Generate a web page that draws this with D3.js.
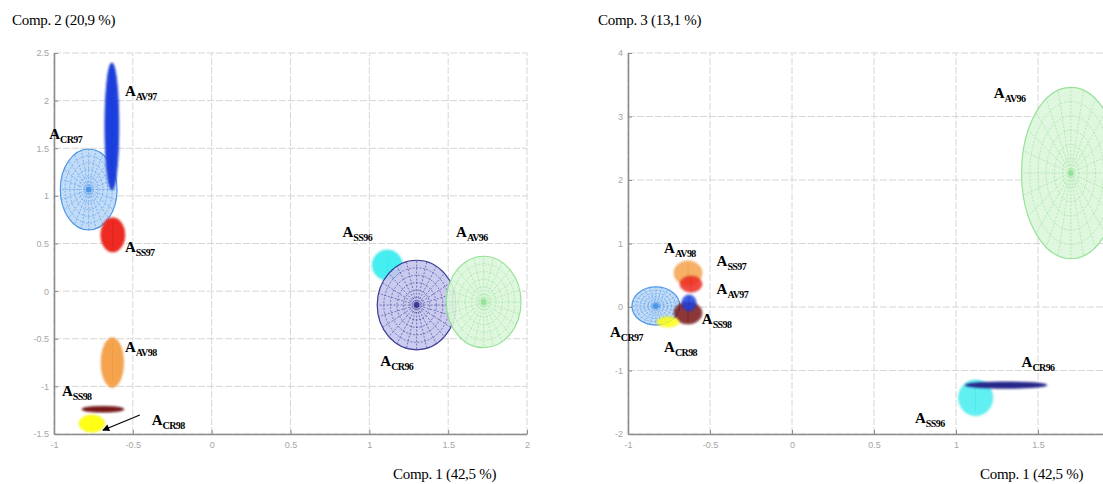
<!DOCTYPE html>
<html>
<head>
<meta charset="utf-8">
<script src="https://cdn.jsdelivr.net/npm/d3@7"></script>
<style>
  body { margin: 0; background: #fff; }
  text { font-family: "Liberation Serif", "Times New Roman", serif; }
  .tick text { font-family: "Liberation Sans", Arial, sans-serif; font-size: 9px; fill: #a5a5a5; }
</style>
</head>
<body>
<svg id="chart" width="1103" height="484"></svg>
<script>
// Left panel: Comp. 1 (x) vs Comp. 2 (y)
const leftNames = ["CR97", "AV97", "SS97", "AV98", "SS98", "CR98", "SS96", "CR96", "AV96"];
const leftCx = [-0.78, -0.633, -0.627, -0.63, -0.69, -0.76, 1.114, 1.30, 1.725];
const leftCy = [1.067, 1.73, 0.59, -0.75, -1.24, -1.39, 0.274, -0.146, -0.114];
const leftRx = [0.18, 0.044, 0.076, 0.07, 0.133, 0.08, 0.095, 0.25, 0.237];
const leftRy = [0.425, 0.667, 0.18, 0.26, 0.03, 0.09, 0.157, 0.47, 0.48];
// where each label sits, in data units
const leftLabelX = [-1.03, -0.55, -0.55, -0.55, -0.95, -0.38, 0.83, 1.07, 1.55];
const leftLabelY = [1.60, 2.05, 0.41, -0.64, -1.10, -1.41, 0.57, -0.79, 0.57];
const leftXTicks = [-1, -0.5, 0, 0.5, 1, 1.5, 2];
const leftYTicks = [-1.5, -1, -0.5, 0, 0.5, 1, 1.5, 2, 2.5];
// arrow pointing at A_CR98: [from, to]
const leftArrow = [[-0.456, -1.30], [-0.69, -1.46]];

// Right panel: Comp. 1 (x) vs Comp. 3 (y)
const rightNames = ["AV96", "SS96", "CR96", "CR97", "AV98", "SS97", "SS98", "AV97", "CR98"];
const rightCx = [1.70, 1.12, 1.305, -0.83, -0.634, -0.616, -0.634, -0.628, -0.756];
const rightCy = [2.11, -1.43, -1.23, 0.016, 0.535, 0.36, -0.094, 0.063, -0.236];
const rightRx = [0.30, 0.104, 0.25, 0.146, 0.085, 0.067, 0.085, 0.043, 0.067];
const rightRy = [1.35, 0.28, 0.05, 0.30, 0.19, 0.126, 0.173, 0.126, 0.08];
const rightLabelX = [1.23, 0.75, 1.40, -1.11, -0.78, -0.46, -0.55, -0.46, -0.78];
const rightLabelY = [3.29, -1.83, -0.94, -0.47, 0.85, 0.65, -0.27, 0.20, -0.71];
const rightXTicks = [-1, -0.5, 0, 0.5, 1, 1.5];
const rightYTicks = [-2, -1, 0, 1, 2, 3, 4];

// look of each group
const styles = {
  CR97: { fill: "#bcd8f6", stroke: "#3a8ce6", mesh: true },
  AV97: { fill: "#1f3fe0", stroke: "#1530b8" },
  SS97: { fill: "#ee2a22", stroke: "#d01c14" },
  AV98: { fill: "#f5a44e", stroke: "#e88a30" },
  SS98: { fill: "#7a1418", stroke: "#5a0a0e" },
  CR98: { fill: "#ffff14", stroke: "#f0f000" },
  SS96: { fill: "#44eef0", stroke: "#30dce0" },
  CR96: { fill: "#c6c6ee", stroke: "#26268a", mesh: true },
  AV96: { fill: "#dcf6dc", stroke: "#8cdf8c", mesh: true }
};

const svg = d3.select("#chart");

const defs = svg.append("defs");
defs.append("filter").attr("id", "soft")
  .attr("x", "-30%").attr("y", "-30%").attr("width", "160%").attr("height", "160%")
  .append("feGaussianBlur").attr("stdDeviation", 1.2);
defs.append("marker").attr("id", "arrowhead")
  .attr("viewBox", "0 0 10 10").attr("refX", 9).attr("refY", 5)
  .attr("markerWidth", 9).attr("markerHeight", 7).attr("orient", "auto")
  .attr("markerUnits", "userSpaceOnUse")
  .append("path").attr("d", "M0,0 L10,5 L0,10 z").attr("fill", "#000");

function drawPanel(p) {
  const x = d3.scaleLinear().domain(p.xDomain).range(p.xRange);
  const y = d3.scaleLinear().domain(p.yDomain).range(p.yRange);
  const g = svg.append("g");

  // grid (the last x gridline runs to the panel edge even if unlabeled)
  const gridX = d3.range(p.xDomain[0], p.xDomain[1] + 0.01, 0.5);
  g.selectAll(".vgrid").data(gridX).enter().append("line")
    .attr("x1", d => x(d)).attr("x2", d => x(d))
    .attr("y1", y.range()[0]).attr("y2", y.range()[1])
    .attr("stroke", "#d6d6d6").attr("stroke-width", 1).attr("stroke-dasharray", "7,2");
  g.selectAll(".hgrid").data(p.yTicks).enter().append("line")
    .attr("x1", x.range()[0]).attr("x2", x.range()[1])
    .attr("y1", d => y(d)).attr("y2", d => y(d))
    .attr("stroke", "#d6d6d6").attr("stroke-width", 1).attr("stroke-dasharray", "7,2");

  // ellipses
  p.names.forEach((name, i) => {
    const st = styles[name];
    const cx = x(p.cx[i]), cy = y(p.cy[i]);
    const rx = x(p.cx[i] + p.rx[i]) - cx;
    const ry = cy - y(p.cy[i] + p.ry[i]);
    const e = g.append("g");
    if (st.mesh && Math.min(rx, ry) > 6) {
      e.attr("opacity", 0.9);
      e.append("ellipse").attr("cx", cx).attr("cy", cy).attr("rx", rx).attr("ry", ry)
        .attr("fill", st.fill).attr("stroke", st.stroke).attr("stroke-width", 1.2);
      d3.range(1, 6).forEach(k => {
        e.append("ellipse").attr("cx", cx).attr("cy", cy)
          .attr("rx", rx * k / 6).attr("ry", ry * k / 6)
          .attr("fill", "none").attr("stroke", st.stroke)
          .attr("stroke-width", 0.6).attr("stroke-dasharray", "2,1.5");
      });
      d3.range(0, 360, 15).forEach(a => {
        const t = a * Math.PI / 180;
        e.append("line").attr("x1", cx).attr("y1", cy)
          .attr("x2", cx + rx * Math.cos(t)).attr("y2", cy + ry * Math.sin(t))
          .attr("stroke", st.stroke).attr("stroke-width", 0.6)
          .attr("stroke-dasharray", "2,1.5");
      });
      e.append("ellipse").attr("cx", cx).attr("cy", cy)
        .attr("rx", Math.min(rx, 3)).attr("ry", Math.min(ry, 3)).attr("fill", st.stroke);
    } else if (st.mesh) {
      // a mesh squashed flat reads as a dark bar
      e.append("ellipse").attr("cx", cx).attr("cy", cy).attr("rx", rx).attr("ry", Math.max(ry, 2.5))
        .attr("fill", st.stroke).attr("stroke", st.stroke).attr("stroke-width", 0.8)
        .attr("filter", "url(#soft)");
    } else {
      e.append("ellipse").attr("cx", cx).attr("cy", cy).attr("rx", rx).attr("ry", ry)
        .attr("fill", st.fill).attr("stroke", st.stroke).attr("stroke-width", 0.8)
        .attr("opacity", p.solidOpacity).attr("filter", "url(#soft)");
      e.append("line").attr("x1", cx).attr("x2", cx).attr("y1", cy - ry * 0.8).attr("y2", cy + ry * 0.8)
        .attr("stroke", st.stroke).attr("stroke-width", 0.6).attr("opacity", 0.6);
    }
  });

  // axes
  const axL = d3.axisLeft(y).tickValues(p.yTicks).tickFormat(d => String(d))
    .tickSizeInner(-4).tickSizeOuter(0).tickPadding(5);
  const axB = d3.axisBottom(x).tickValues(p.xTicks).tickFormat(d => String(d))
    .tickSizeInner(-4).tickSizeOuter(0).tickPadding(8);
  const gl = g.append("g").attr("transform", `translate(${x.range()[0]},0)`).call(axL);
  const gb = g.append("g").attr("transform", `translate(0,${y.range()[0]})`).call(axB);
  [gl, gb].forEach(a => {
    a.select(".domain").attr("stroke", "#8c8c8c").attr("stroke-width", 1.6);
    a.selectAll(".tick line").attr("stroke", "#8c8c8c");
  });

  // group labels
  p.names.forEach((name, i) => {
    const t = g.append("text")
      .attr("x", x(p.labelX[i])).attr("y", y(p.labelY[i]))
      .attr("font-weight", "bold").attr("fill", "#000");
    t.append("tspan").attr("font-size", 15).text("A");
    t.append("tspan").attr("font-size", 10).attr("dy", 4)
      .attr("letter-spacing", -0.6).text(name);
  });

  if (p.arrow) {
    g.append("line")
      .attr("x1", x(p.arrow[0][0])).attr("y1", y(p.arrow[0][1]))
      .attr("x2", x(p.arrow[1][0])).attr("y2", y(p.arrow[1][1]))
      .attr("stroke", "#000").attr("stroke-width", 1.2)
      .attr("marker-end", "url(#arrowhead)");
  }

  // axis titles
  g.append("text").attr("x", p.yTitlePos[0]).attr("y", p.yTitlePos[1])
    .attr("font-size", 15).attr("letter-spacing", -0.3).text(p.yTitle);
  g.append("text").attr("x", p.xTitlePos[0]).attr("y", p.xTitlePos[1])
    .attr("font-size", 15).attr("letter-spacing", -0.3).text("Comp. 1 (42,5 %)");
}

drawPanel({
  names: leftNames, cx: leftCx, cy: leftCy, rx: leftRx, ry: leftRy,
  labelX: leftLabelX, labelY: leftLabelY,
  xTicks: leftXTicks, yTicks: leftYTicks, arrow: leftArrow,
  xDomain: [-1, 2], xRange: [54, 527],
  yDomain: [-1.5, 2.5], yRange: [434, 53],
  solidOpacity: 1,
  yTitle: "Comp. 2 (20,9 %)", yTitlePos: [12, 25], xTitlePos: [393, 479]
});

drawPanel({
  names: rightNames, cx: rightCx, cy: rightCy, rx: rightRx, ry: rightRy,
  labelX: rightLabelX, labelY: rightLabelY,
  xTicks: rightXTicks, yTicks: rightYTicks, arrow: null,
  xDomain: [-1, 2], xRange: [628, 1120],
  yDomain: [-2, 4], yRange: [434, 53],
  solidOpacity: 0.85,
  yTitle: "Comp. 3 (13,1 %)", yTitlePos: [598, 25], xTitlePos: [980, 479]
});
</script>
</body>
</html>
